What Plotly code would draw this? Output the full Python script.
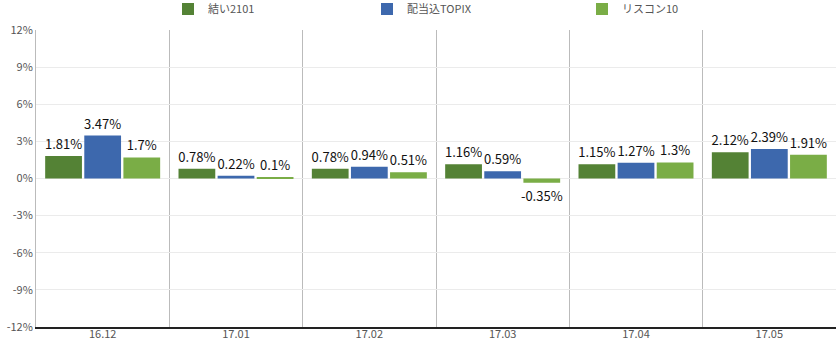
import plotly.graph_objects as go

categories = ["16.12", "17.01", "17.02", "17.03", "17.04", "17.05"]
series_names = ["結い2101", "配当込TOPIX", "リスコン10"]
yui = [1.81, 0.78, 0.78, 1.16, 1.15, 2.12]
topix = [3.47, 0.22, 0.94, 0.59, 1.27, 2.39]
riscon = [1.7, 0.1, 0.51, -0.35, 1.3, 1.91]
colors = ["#548235", "#3d68ad", "#7aad46"]
y_ticks = [-12, -9, -6, -3, 0, 3, 6, 9, 12]
legend_x = [168, 367, 582]

font_family = "Noto Sans CJK JP, Roboto, sans-serif"
legend_ids = ["legend", "legend2", "legend3"]

fig = go.Figure()
for name, vals, col, lid in zip(series_names, [yui, topix, riscon], colors, legend_ids):
    fig.add_trace(go.Bar(
        x=categories, y=vals, name=name, legend=lid, showlegend=True,
        marker=dict(color=col, line=dict(width=0)),
        text=[f"{v:g}%" for v in vals], textposition="outside",
        textfont=dict(size=13, color="#111111", family=font_family),
        cliponaxis=False,
    ))

legend_common = dict(orientation="h", xref="container", yref="container",
                     xanchor="left", y=0.974, yanchor="middle",
                     font=dict(size=11, color="#555555"), itemwidth=30,
                     bgcolor="rgba(0,0,0,0)", visible=True)

layout_legends = {}
for lid, lx in zip(legend_ids, legend_x):
    layout_legends[lid] = dict(legend_common, x=lx / 836)

fig.update_layout(
    width=836, height=342,
    showlegend=True,
    margin=dict(l=36, r=0, t=30, b=15, autoexpand=False),
    paper_bgcolor="white", plot_bgcolor="white",
    barmode="group", bargap=0.12, bargroupgap=0.06,
    uniformtext=dict(minsize=13, mode="show"),
    font=dict(family=font_family, color="#555555", size=11),
    xaxis=dict(type="category", tickson="boundaries", showgrid=True, gridcolor="#bbbbbb",
               gridwidth=1, showline=True, linecolor="#222222", linewidth=1.5,
               ticks="", ticklabelstandoff=-4,
               tickfont=dict(size=11, color="#555555"), automargin=False),
    yaxis=dict(range=[-12, 12], tickvals=y_ticks, ticktext=[f"{v}%" for v in y_ticks],
               showgrid=True, gridcolor="#ebebeb", zeroline=False,
               showline=True, linecolor="#bbbbbb", linewidth=1,
               ticks="", tickfont=dict(size=11, color="#555555"), automargin=False),
    **layout_legends,
)

fig.write_html("out.html")
